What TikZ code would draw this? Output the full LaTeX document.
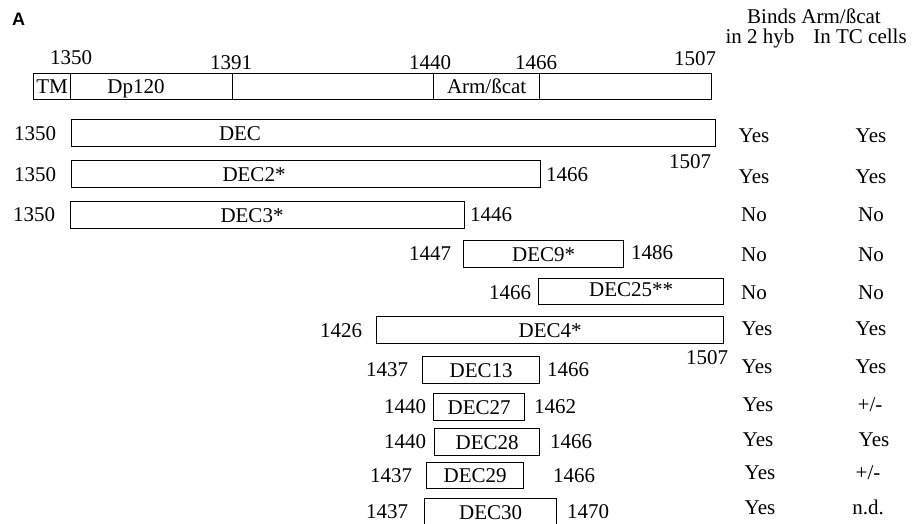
\documentclass[tikz,border=0pt]{standalone}
\usepackage{fontspec}
\setmainfont{Liberation Serif}
\newfontfamily\panelfont{Liberation Sans}

\begin{document}
\begin{tikzpicture}[
    x=1pt, y=-1pt,
    txt/.style={inner sep=0pt, text height=14pt, text depth=0pt, font=\fontsize{21}{24}\selectfont},
    frag/.style={rectangle, draw=black, line width=1.3pt, anchor=north west, inner sep=0pt, text height=14pt, text depth=0pt, font=\fontsize{21}{24}\selectfont},
    panel/.style={inner sep=0pt, font=\panelfont\bfseries\fontsize{18}{20}\selectfont}
]
\useasboundingbox (0,0) rectangle (921,523);

% Panel letter and column headers
\node[panel, anchor=base] (panel_a) at (18.5,25.5) {A};
\node[txt] (hdr_binds) at (814,16.5) {Binds Arm/ßcat};
\node[txt] (hdr_hyb)   at (760,36) {in 2 hyb};
\node[txt] (hdr_tc)    at (860,36) {In TC cells};

% Domain bar with residue numbers above
\node[frag, minimum width=37pt, minimum height=26pt]  (seg_tm)  at (33,73)  {TM};
\node[frag, minimum width=162pt, minimum height=26pt] (seg_dp)  at (70,73)  {};
\node[frag, minimum width=201pt, minimum height=26pt] (seg_mid) at (232,73) {};
\node[frag, minimum width=106pt, minimum height=26pt] (seg_arm) at (433,73) {Arm/ßcat};
\node[frag, minimum width=172pt, minimum height=26pt] (seg_c)   at (539,73) {};
\node[txt] (lbl_dp) at (136,86) {Dp120};

\node[txt] (top_1350) at (71,57)  {1350};
\node[txt] (top_1391) at (231,62) {1391};
\node[txt] (top_1440) at (430,62) {1440};
\node[txt] (top_1466) at (536,62) {1466};
\node[txt] (top_1507) at (695,58) {1507};

% Long constructs
\node[frag, minimum width=644pt, minimum height=27pt] (dec_full) at (71,119) {};
\node[txt] (lbl_full) at (240,133.5) {DEC};
\node[txt] (full_l) at (35,133.5)  {1350};
\node[txt] (full_r) at (690,161)   {1507};

\node[frag, minimum width=469pt, minimum height=27pt] (dec_2) at (71,160) {};
\node[txt] (lbl_2) at (254,174.5) {DEC2*};
\node[txt] (dec2_l) at (35,174)  {1350};
\node[txt] (dec2_r) at (567,174) {1466};

\node[frag, minimum width=394pt, minimum height=27pt] (dec_3) at (70,201) {};
\node[txt] (lbl_3) at (252,215) {DEC3*};
\node[txt] (dec3_l) at (34,214.5) {1350};
\node[txt] (dec3_r) at (491,214)  {1446};

% Short constructs around Arm/ßcat
\node[frag, minimum width=160pt, minimum height=27pt] (dec_9) at (463,240) {DEC9*};
\node[txt] (dec9_l) at (430,253) {1447};
\node[txt] (dec9_r) at (652,252) {1486};

\node[frag, minimum width=185pt, minimum height=26pt, text depth=5pt] (dec_25) at (538,278) {DEC25**};
\node[txt] (dec25_l) at (510,292) {1466};

\node[frag, minimum width=347pt, minimum height=27pt] (dec_4) at (376,316) {DEC4*};
\node[txt] (dec4_l) at (341,330) {1426};
\node[txt] (dec4_r) at (707,357) {1507};

\node[frag, minimum width=117pt, minimum height=27pt] (dec_13) at (422,356) {DEC13};
\node[txt] (dec13_l) at (387,369.5) {1437};
\node[txt] (dec13_r) at (568,369.5) {1466};

\node[frag, minimum width=91pt, minimum height=27pt] (dec_27) at (433,393) {DEC27};
\node[txt] (dec27_l) at (405,406.5) {1440};
\node[txt] (dec27_r) at (555,406.5) {1462};

\node[frag, minimum width=105pt, minimum height=27pt] (dec_28) at (434,428) {DEC28};
\node[txt] (dec28_l) at (405,441.5) {1440};
\node[txt] (dec28_r) at (571,441.5) {1466};

\node[frag, minimum width=97pt, minimum height=26pt] (dec_29) at (426,462) {DEC29};
\node[txt] (dec29_l) at (391,475) {1437};
\node[txt] (dec29_r) at (574,475) {1466};

\node[frag, minimum width=132pt, minimum height=28pt] (dec_30) at (424,498) {DEC30};
\node[txt] (dec30_l) at (387,511) {1437};
\node[txt] (dec30_r) at (588,511) {1470};

% Binding results: two-hybrid column
\node[txt] (hyb_full) at (754,135) {Yes};
\node[txt] (hyb_2)    at (754,176) {Yes};
\node[txt] (hyb_3)    at (754,214) {No};
\node[txt] (hyb_9)    at (754,254) {No};
\node[txt] (hyb_25)   at (754,292) {No};
\node[txt] (hyb_4)    at (757,328) {Yes};
\node[txt] (hyb_13)   at (757,366) {Yes};
\node[txt] (hyb_27)   at (758,404) {Yes};
\node[txt] (hyb_28)   at (758,439) {Yes};
\node[txt] (hyb_29)   at (760,472) {Yes};
\node[txt] (hyb_30)   at (760,507) {Yes};

% Binding results: TC cell column
\node[txt] (tc_full) at (871,135) {Yes};
\node[txt] (tc_2)    at (871,176) {Yes};
\node[txt] (tc_3)    at (871,214) {No};
\node[txt] (tc_9)    at (871,254) {No};
\node[txt] (tc_25)   at (871,292) {No};
\node[txt] (tc_4)    at (871,328) {Yes};
\node[txt] (tc_13)   at (871,366) {Yes};
\node[txt] (tc_27)   at (870,404) {+/-};
\node[txt] (tc_28)   at (874,439) {Yes};
\node[txt] (tc_29)   at (868,472) {+/-};
\node[txt] (tc_30)   at (868,507) {n.d.};

\end{tikzpicture}
\end{document}
